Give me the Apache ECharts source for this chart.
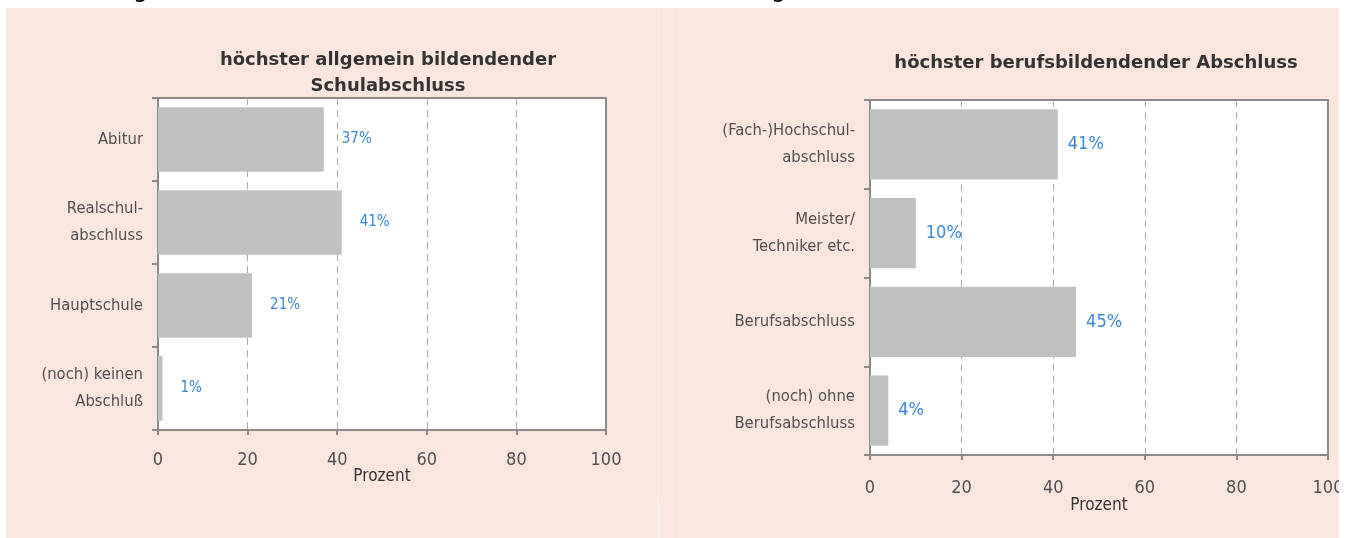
<!DOCTYPE html>
<html>
<head>
<meta charset="utf-8">
<script src="https://cdn.jsdelivr.net/npm/echarts@6/dist/echarts.min.js"></script>
<style>
  html, body { margin: 0; padding: 0; background: #fff; }
  #main { width: 1353px; height: 538px; }
</style>
</head>
<body>
<div id="main"></div>
<script>
// linke Grafik: allgemeinbildender Abschluss
var schulCategories = ['Abitur', 'Realschul-\nabschluss', 'Hauptschule', '(noch) keinen\nAbschluß'];
var schulValues = [37, 41, 21, 1];
// rechte Grafik: berufsbildender Abschluss
var berufCategories = ['(Fach-)Hochschul-\nabschluss', 'Meister/\nTechniker etc.', 'Berufsabschluss', '(noch) ohne\nBerufsabschluss'];
var berufValues = [41, 10, 45, 4];
var xTicks = [0, 20, 40, 60, 80, 100];

var fontCond = '"Liberation Sans Narrow", "DejaVu Sans Condensed", "Roboto Condensed", "Liberation Sans", sans-serif';
var axisGrey = '#8a8a8a';
var textGrey = '#505050';
var blue = '#3a86d8';

function xAxisFor(gridIndex, nameGap, labelMargin) {
    return {
        gridIndex: gridIndex,
        type: 'value',
        min: xTicks[0],
        max: xTicks[xTicks.length - 1],
        interval: xTicks[1] - xTicks[0],
        name: 'Prozent',
        nameLocation: 'middle',
        nameGap: nameGap,
        nameMoveOverlap: false,
        nameTextStyle: { fontFamily: fontCond, fontSize: 17, color: '#333' },
        axisLine: { show: true, lineStyle: { color: axisGrey, width: 2 } },
        axisTick: { show: true, length: 5, lineStyle: { color: axisGrey, width: 2 } },
        axisLabel: { margin: labelMargin, fontFamily: fontCond, fontSize: 18, color: textGrey },
        splitLine: { show: true, showMinLine: false, showMaxLine: false, lineStyle: { color: '#aaaaaa', type: [7, 5], width: 1 } }
    };
}

function yAxisFor(gridIndex, cats, lineHeight) {
    return {
        gridIndex: gridIndex,
        type: 'category',
        inverse: true,
        data: cats,
        axisLine: { show: true, lineStyle: { color: axisGrey, width: 2 } },
        axisTick: { show: true, length: 6, lineStyle: { color: axisGrey, width: 2 } },
        axisLabel: { margin: 15, fontFamily: fontCond, fontSize: 16.5, color: textGrey, lineHeight: lineHeight, align: 'right' },
        splitLine: { show: false }
    };
}

var chart = echarts.init(document.getElementById('main'), null, { renderer: 'canvas' });
var option = {
    backgroundColor: '#ffffff',
    animation: false,
    graphic: [
        { type: 'text', left: 133, top: -21, z: -5, style: { text: 'g', font: '24px "DejaVu Sans"', fill: '#000' } },
        { type: 'text', left: 771, top: -21, z: -5, style: { text: 'g', font: '24px "DejaVu Sans"', fill: '#000' } },
        { type: 'rect', z: -10, shape: { x: 6, y: 8, width: 652, height: 530 }, style: { fill: '#f9e7df' } },
        { type: 'rect', z: -10, shape: { x: 659, y: 8, width: 680, height: 530 }, style: { fill: '#f9e7df' } },
        { type: 'rect', z: -9, shape: { x: 658, y: 8, width: 1, height: 495 }, style: { fill: '#fbefe9' } },
        { type: 'rect', z: -9, shape: { x: 672, y: 8, width: 1, height: 530 }, style: { fill: '#fbefe9' } },
        // rechter Rand schneidet die "100" ab
        { type: 'rect', z: 100, shape: { x: 1339, y: 0, width: 14, height: 538 }, style: { fill: '#ffffff' } }
    ],
    title: [{
        text: 'höchster allgemein bildendender\nSchulabschluss',
        left: 383,
        top: 42,
        textAlign: 'center',
        textStyle: { fontFamily: '"DejaVu Sans"', fontSize: 18, fontWeight: 'bold', color: '#333', lineHeight: 26 }
    }, {
        text: 'höchster berufsbildendender Abschluss',
        left: 1091,
        top: 49,
        textAlign: 'center',
        textStyle: { fontFamily: '"DejaVu Sans"', fontSize: 18, fontWeight: 'bold', color: '#333' }
    }],
    grid: [
        { left: 158, top: 98, width: 448, height: 332, show: true, backgroundColor: '#ffffff', borderColor: axisGrey, borderWidth: 2 },
        { left: 870, top: 100, width: 458, height: 355, show: true, backgroundColor: '#ffffff', borderColor: axisGrey, borderWidth: 2 }
    ],
    xAxis: [xAxisFor(0, 38, 21), xAxisFor(1, 42, 24)],
    yAxis: [yAxisFor(0, schulCategories, 27), yAxisFor(1, berufCategories, 27)],
    series: [{
        type: 'bar',
        xAxisIndex: 0,
        yAxisIndex: 0,
        data: schulValues,
        barCategoryGap: '22%',
        itemStyle: { color: '#c0c0c0' },
        label: { show: true, position: 'right', distance: 18, formatter: '{c}%', fontFamily: fontCond, fontSize: 15, color: blue }
    }, {
        type: 'bar',
        xAxisIndex: 1,
        yAxisIndex: 1,
        data: berufValues,
        barCategoryGap: '21%',
        itemStyle: { color: '#c0c0c0' },
        label: { show: true, position: 'right', distance: 10, formatter: '{c}%', fontFamily: fontCond, fontSize: 18, color: blue }
    }]
};
chart.setOption(option);
</script>
</body>
</html>
